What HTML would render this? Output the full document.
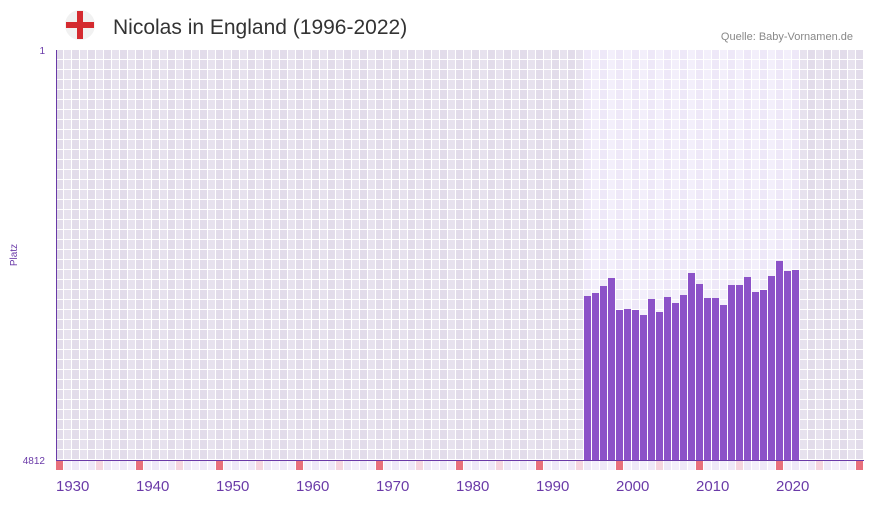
<!DOCTYPE html>
<html><head><style>
body{margin:0;background:#fff;width:873px;height:502px;overflow:hidden;font-family:"Liberation Sans",sans-serif}
</style></head><body>
<svg width="873" height="502" xmlns="http://www.w3.org/2000/svg">
<defs>
<pattern id="g1" x="56" y="50" width="16" height="10" patternUnits="userSpaceOnUse">
<rect width="16" height="10" fill="#fff"/>
<rect x="0" y="0" width="7" height="9" fill="#e2dcea"/>
<rect x="8" y="0" width="7" height="9" fill="#e7e2ee"/>
</pattern>
<pattern id="g2" x="56" y="50" width="16" height="10" patternUnits="userSpaceOnUse">
<rect width="16" height="10" fill="#fff"/>
<rect x="0" y="0" width="7" height="9" fill="#eee8f8"/>
<rect x="8" y="0" width="7" height="9" fill="#f3effb"/>
</pattern>
</defs>
<circle cx="80" cy="25" r="15" fill="#f1f1f1"/>
<rect x="77" y="11" width="6" height="28" fill="#d42a2f"/>
<rect x="66" y="22" width="28" height="6" fill="#d42a2f"/>
<text x="113" y="34" font-size="21" fill="#333">Nicolas in England (1996-2022)</text>
<text x="853" y="40" font-size="11" fill="#888" text-anchor="end">Quelle: Baby-Vornamen.de</text>
<rect x="56" y="50" width="808" height="410" fill="url(#g1)"/>
<rect x="584" y="50" width="216" height="410" fill="url(#g2)"/>
<g fill="#8c52c8" id="bars"></g>
<line x1="56.5" y1="50" x2="56.5" y2="461" stroke="#6a3aa8" stroke-width="1"/>
<line x1="56" y1="460.5" x2="864" y2="460.5" stroke="#6a3aa8" stroke-width="1"/>
<g id="marks"></g>
<text x="45" y="54" font-size="10" fill="#6a3aa8" text-anchor="end">1</text>
<text x="45" y="464" font-size="10" fill="#6a3aa8" text-anchor="end">4812</text>
<text x="17" y="255" font-size="10" fill="#6a3aa8" text-anchor="middle" transform="rotate(-90 17 255)">Platz</text>
<g font-size="15" fill="#6a3aa8" id="labels"></g>
</svg>
<script>
var tops=[296,293,286,278,310,309,310,315,299,312,297,303,295,273,284,298,298,305,285,285,277,292,290,276,261,271,270];
var ns="http://www.w3.org/2000/svg",b=document.getElementById("bars");
tops.forEach(function(t,i){var r=document.createElementNS(ns,"rect");r.setAttribute("x",584+i*8);r.setAttribute("y",t);r.setAttribute("width",7);r.setAttribute("height",460-t);b.appendChild(r);});
var m=document.getElementById("marks");
for(var y=1930;y<=2030;y++){var r=document.createElementNS(ns,"rect");r.setAttribute("x",56+(y-1930)*8);r.setAttribute("y",461);r.setAttribute("width",7);r.setAttribute("height",9);
var c=(y%10==0)?"#e8707c":(y%10==5)?"#f5d5df":((y%2)?"#f3effb":"#eee8f8");r.setAttribute("fill",c);m.appendChild(r);}
var l=document.getElementById("labels");
for(var y=1930;y<=2020;y+=10){var t=document.createElementNS(ns,"text");t.setAttribute("x",56+(y-1930)*8);t.setAttribute("y",491);t.textContent=y;l.appendChild(t);}
</script>
</body></html>
